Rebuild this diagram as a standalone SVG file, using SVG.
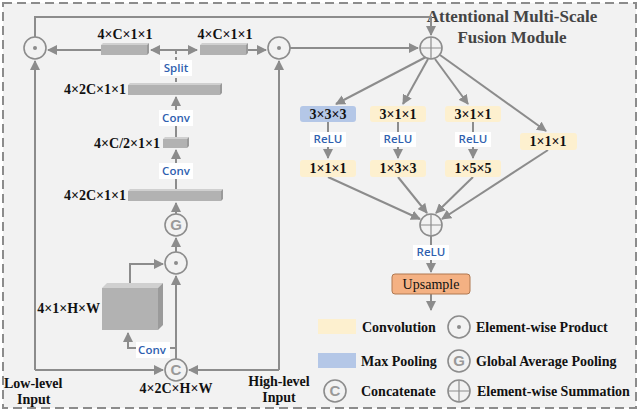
<svg xmlns="http://www.w3.org/2000/svg" width="640" height="412" viewBox="0 0 640 412">
<style>
.ln{stroke:#8c8c8c;stroke-width:2;fill:none}
.op{stroke:#8c8c8c;stroke-width:1.6;fill:#f2f2f2}
.d{font-family:"Liberation Serif",serif;font-weight:bold;font-size:14px;fill:#111}
.t{font-size:17px;fill:#444}
.b{font-family:"Open Sans","Noto Sans",sans-serif;font-size:11.5px;font-weight:600;fill:#2f5faf}
.bar{fill:#b2b2b2}
.bt{fill:#d0d0d0}
.bs{fill:#9a9a9a}
.conv{fill:#fdf0cf}
.mp{fill:#b4c7e7}
.lab{fill:#fff}
</style>
<defs>
<marker id="a" viewBox="0 0 10 10" refX="9" refY="5" markerWidth="5" markerHeight="5" orient="auto-start-reverse"><path d="M0,0L10,5L0,10z" fill="#8c8c8c"/></marker>
<g id="dot"><circle r="11" class="op"/><circle r="2" fill="#8c8c8c"/></g>
<g id="plus"><circle r="11" class="op"/><path d="M-11,0H11M0,-11V11" stroke="#8c8c8c" stroke-width="1.2"/></g>
<g id="gap"><circle r="11" class="op"/><text y="5" text-anchor="middle" font-family="Liberation Sans,sans-serif" font-size="15" font-weight="bold" fill="#999">G</text></g>
<g id="cat"><circle r="11" class="op"/><text y="5" text-anchor="middle" font-family="Liberation Sans,sans-serif" font-size="15" font-weight="bold" fill="#999">C</text></g>
</defs>
<rect x="3" y="3" width="633" height="405" fill="#f2f2f2" stroke="#8c8c8c" stroke-width="2" stroke-dasharray="9,5"/>
<text class="d t" x="512" y="22" text-anchor="middle">Attentional Multi-Scale</text>
<text class="d t" x="512" y="43" text-anchor="middle">Fusion Module</text>

<g id="connectors">
<path class="ln" d="M35,37V17H431V35" marker-end="url(#a)"/>
<path class="ln" d="M290,48H418" marker-end="url(#a)"/>
<path class="ln" d="M35,370V61" marker-end="url(#a)"/>
<path class="ln" d="M279,370V61" marker-end="url(#a)"/>
<path class="ln" d="M35,370H163" marker-end="url(#a)"/>
<path class="ln" d="M279,370H189" marker-end="url(#a)"/>
<path class="ln" d="M101,50H48" marker-end="url(#a)"/>
<path class="ln" d="M246,50H266" marker-end="url(#a)"/>
<path class="ln" d="M151,50H197" marker-start="url(#a)" marker-end="url(#a)"/>
<path class="ln" d="M176,50V84" stroke-dasharray="4,3"/>
<path class="ln" d="M176,137V97" marker-end="url(#a)"/>
<path class="ln" d="M176,190V150" marker-end="url(#a)"/>
<path class="ln" d="M176,214V203" marker-end="url(#a)"/>
<path class="ln" d="M176,252V238" marker-end="url(#a)"/>
<path class="ln" d="M176,359V276" marker-end="url(#a)"/>
<path class="ln" d="M130,283V264H163" marker-end="url(#a)"/>
<path class="ln" d="M176,348H128V333" marker-end="url(#a)"/>
<path class="ln" d="M426,57L336,104" marker-end="url(#a)"/>
<path class="ln" d="M428,59L403,104" marker-end="url(#a)"/>
<path class="ln" d="M435,59L468,104" marker-end="url(#a)"/>
<path class="ln" d="M440,55L546,131" marker-end="url(#a)"/>
<path class="ln" d="M328,122V158" marker-end="url(#a)"/>
<path class="ln" d="M398,122V158" marker-end="url(#a)"/>
<path class="ln" d="M473,122V158" marker-end="url(#a)"/>
<path class="ln" d="M328,177L420,219" marker-end="url(#a)"/>
<path class="ln" d="M398,177L427,213" marker-end="url(#a)"/>
<path class="ln" d="M473,177L436,213" marker-end="url(#a)"/>
<path class="ln" d="M548,150L442,219" marker-end="url(#a)"/>
<path class="ln" d="M431,236V272" marker-end="url(#a)"/>
<path class="ln" d="M431,294V310" marker-end="url(#a)"/>
</g>

<g id="labels">
<rect class="lab" x="160" y="60" width="32" height="16"/><text class="b" x="176" y="72" text-anchor="middle">Split</text>
<rect class="lab" x="159" y="110" width="34" height="16"/><text class="b" x="176" y="122" text-anchor="middle">Conv</text>
<rect class="lab" x="159" y="163" width="34" height="16"/><text class="b" x="176" y="175" text-anchor="middle">Conv</text>
<rect class="lab" x="136" y="342" width="34" height="16"/><text class="b" x="152" y="354" text-anchor="middle">Conv</text>
<rect class="lab" x="310" y="132" width="36" height="15"/><text class="b" x="328" y="143" text-anchor="middle">ReLU</text>
<rect class="lab" x="380" y="132" width="36" height="15"/><text class="b" x="398" y="143" text-anchor="middle">ReLU</text>
<rect class="lab" x="455" y="132" width="36" height="15"/><text class="b" x="473" y="143" text-anchor="middle">ReLU</text>
<rect class="lab" x="413" y="245" width="36" height="15"/><text class="b" x="431" y="256" text-anchor="middle">ReLU</text>
</g>

<g id="left-product"><use href="#dot" x="35" y="48"/></g>
<g id="right-product"><use href="#dot" x="279" y="48"/></g>
<g id="sum-top"><use href="#plus" x="431" y="48"/></g>
<g id="gap-node"><use href="#gap" x="176" y="225"/></g>
<g id="mid-product"><use href="#dot" x="176" y="263"/></g>
<g id="concat"><use href="#cat" x="176" y="370"/></g>
<g id="sum-bottom"><use href="#plus" x="431" y="225"/></g>

<g id="bar-c-left"><path class="bt" d="M101,45H147l2,-2H103z"/><rect class="bar" x="101" y="45" width="46" height="10"/><path class="bs" d="M147,45l2,-2v10l-2,2z"/><text class="d" x="125" y="39" text-anchor="middle">4×C×1×1</text></g>
<g id="bar-c-right"><path class="bt" d="M200,45H246l2,-2H202z"/><rect class="bar" x="200" y="45" width="46" height="10"/><path class="bs" d="M246,45l2,-2v10l-2,2z"/><text class="d" x="225" y="39" text-anchor="middle">4×C×1×1</text></g>
<g id="bar-2c-a"><path class="bt" d="M128,85H220l2,-2H130z"/><rect class="bar" x="128" y="85" width="92" height="10"/><path class="bs" d="M220,85l2,-2v10l-2,2z"/><text class="d" x="126" y="94" text-anchor="end">4×2C×1×1</text></g>
<g id="bar-c2"><path class="bt" d="M163,139H187l2,-2H165z"/><rect class="bar" x="163" y="139" width="24" height="9"/><path class="bs" d="M187,139l2,-2v9l-2,2z"/><text class="d" x="160" y="148" text-anchor="end">4×C/2×1×1</text></g>
<g id="bar-2c-b"><path class="bt" d="M128,191H221l2,-2H130z"/><rect class="bar" x="128" y="191" width="93" height="10"/><path class="bs" d="M221,191l2,-2v10l-2,2z"/><text class="d" x="126" y="200" text-anchor="end">4×2C×1×1</text></g>
<g id="box-3d"><path class="bt" d="M102,288l5,-5H163l-5,5z"/><rect class="bar" x="102" y="288" width="56" height="42"/><path class="bs" d="M158,288l5,-5v42l-5,5z"/><text class="d" x="100" y="313" text-anchor="end">4×1×H×W</text></g>

<g id="b1"><rect class="mp" x="300" y="106" width="56" height="16" rx="3"/><text class="d" x="328" y="119" text-anchor="middle">3×3×3</text></g>
<g id="b2"><rect class="conv" x="370" y="106" width="56" height="16" rx="3"/><text class="d" x="398" y="119" text-anchor="middle">3×1×1</text></g>
<g id="b3"><rect class="conv" x="445" y="106" width="56" height="16" rx="3"/><text class="d" x="473" y="119" text-anchor="middle">3×1×1</text></g>
<g id="b4"><rect class="conv" x="520" y="133" width="57" height="17" rx="3"/><text class="d" x="548" y="146" text-anchor="middle">1×1×1</text></g>
<g id="b5"><rect class="conv" x="300" y="160" width="56" height="17" rx="3"/><text class="d" x="328" y="173" text-anchor="middle">1×1×1</text></g>
<g id="b6"><rect class="conv" x="370" y="160" width="56" height="17" rx="3"/><text class="d" x="398" y="173" text-anchor="middle">1×3×3</text></g>
<g id="b7"><rect class="conv" x="445" y="160" width="56" height="17" rx="3"/><text class="d" x="473" y="173" text-anchor="middle">1×5×5</text></g>
<g id="upsample"><rect x="392" y="274" width="78" height="20" rx="3" fill="#f4b183" stroke="#b07850" stroke-width="1"/><text x="431" y="289" text-anchor="middle" font-family="Liberation Serif,serif" font-size="14" fill="#111">Upsample</text></g>

<g id="io-labels">
<text class="d" x="4" y="388">Low-level</text>
<text class="d" x="17" y="404">Input</text>
<text class="d" x="176" y="393" text-anchor="middle">4×2C×H×W</text>
<text class="d" x="279" y="386" text-anchor="middle">High-level</text>
<text class="d" x="279" y="402" text-anchor="middle">Input</text>
</g>

<g id="legend">
<rect class="conv" x="318" y="319" width="38" height="15"/><text class="d" x="362" y="332">Convolution</text>
<use href="#dot" x="459" y="327"/><text class="d" x="476" y="332">Element-wise Product</text>
<rect class="mp" x="318" y="353" width="38" height="15"/><text class="d" x="361" y="366">Max Pooling</text>
<use href="#gap" x="459" y="361"/><text class="d" x="476" y="366">Global Average Pooling</text>
<use href="#cat" x="335" y="391"/><text class="d" x="361" y="396">Concatenate</text>
<use href="#plus" x="459" y="391"/><text class="d" x="477" y="396">Element-wise Summation</text>
</g>
</svg>
